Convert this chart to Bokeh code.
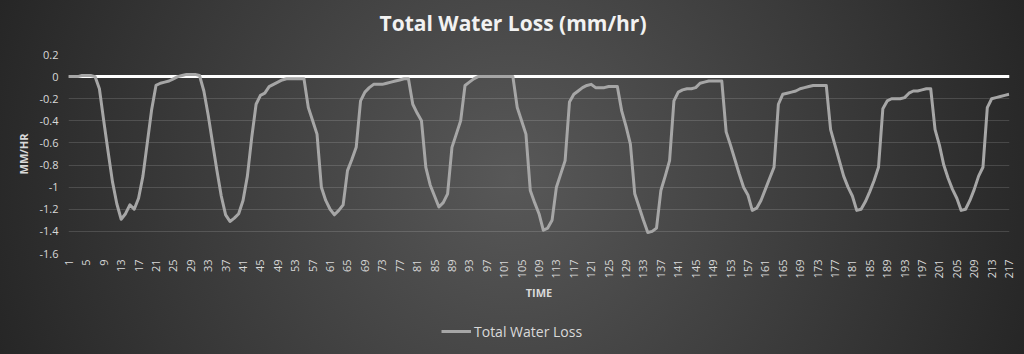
from math import pi
from bokeh.plotting import figure
from bokeh.layouts import column
from bokeh.models import (Range1d, FixedTicker, CustomJSTickFormatter, Span,
                          Legend, LegendItem, Title)
from bokeh.embed import file_html
from bokeh.resources import INLINE

# ---- data ----
time_steps = list(range(1, 218))
x_tick_values = list(range(1, 218, 4))
y_tick_values = [0.2, 0.0, -0.2, -0.4, -0.6, -0.8, -1.0, -1.2, -1.4, -1.6]

water_loss = [
    0, 0, 0, 0.01, 0.01, 0.01, 0, -0.11, -0.4, -0.68,
    -0.95, -1.15, -1.29, -1.24, -1.16, -1.2, -1.1, -0.9, -0.6, -0.3,
    -0.08, -0.06, -0.05, -0.04, -0.02, 0, 0.01, 0.02, 0.02, 0.02,
    0.01, -0.13, -0.35, -0.6, -0.85, -1.08, -1.25, -1.31, -1.28, -1.24,
    -1.12, -0.9, -0.55, -0.25, -0.17, -0.15, -0.09, -0.07, -0.05, -0.03,
    -0.02, -0.02, -0.02, -0.02, -0.02, -0.28, -0.4, -0.52, -1.0, -1.12,
    -1.2, -1.25, -1.21, -1.16, -0.85, -0.75, -0.64, -0.22, -0.14, -0.1,
    -0.07, -0.07, -0.07, -0.06, -0.05, -0.04, -0.03, -0.02, -0.02, -0.25,
    -0.33, -0.4, -0.82, -0.98, -1.08, -1.18, -1.14, -1.06, -0.64, -0.52,
    -0.4, -0.08, -0.05, -0.02, 0, 0, 0, 0, 0, 0,
    0, 0, 0, -0.28, -0.4, -0.52, -1.03, -1.14, -1.24, -1.39,
    -1.37, -1.3, -1.0, -0.88, -0.76, -0.23, -0.16, -0.13, -0.1, -0.08,
    -0.07, -0.1, -0.1, -0.1, -0.09, -0.09, -0.09, -0.31, -0.45, -0.61,
    -1.06, -1.18, -1.3, -1.41, -1.4, -1.37, -1.03, -0.9, -0.76, -0.22,
    -0.14, -0.12, -0.11, -0.11, -0.1, -0.06, -0.05, -0.04, -0.04, -0.04,
    -0.04, -0.5, -0.62, -0.75, -0.88, -1.0, -1.07, -1.21, -1.19, -1.12,
    -1.02, -0.92, -0.82, -0.25, -0.16, -0.15, -0.14, -0.13, -0.11, -0.1,
    -0.09, -0.08, -0.08, -0.08, -0.08, -0.48, -0.62, -0.76, -0.9, -1.0,
    -1.08, -1.21, -1.2, -1.13, -1.04, -0.94, -0.82, -0.29, -0.22, -0.2,
    -0.2, -0.2, -0.19, -0.15, -0.13, -0.13, -0.12, -0.11, -0.11, -0.48,
    -0.62, -0.8, -0.92, -1.02, -1.1, -1.21, -1.2, -1.12, -1.02, -0.9,
    -0.82, -0.28, -0.2, -0.19, -0.18, -0.17, -0.16,
]

title_text = "Total Water Loss (mm/hr)"
x_label = "TIME"
y_label = "MM/HR"
series_name = "Total Water Loss"

FONT = "Open Sans"
TEXT_COL = "#d9d9d9"
LINE_COL = "#a6a6a6"


def blank_strip(height):
    f = figure(width=1024, height=height, output_backend="svg",
               toolbar_location=None, x_range=Range1d(0, 1),
               y_range=Range1d(0, 1), min_border=0)
    f.background_fill_alpha = 0
    f.border_fill_alpha = 0
    f.outline_line_color = None
    f.axis.visible = False
    f.grid.visible = False
    return f


# ---------------- title strip ----------------
top = blank_strip(44)
top.title = Title(text=title_text, align="left", offset=311, text_font=FONT,
                  text_font_size="21px", text_font_style="bold",
                  text_color="#f2f2f2", standoff=13, vertical_align="bottom")

# ---------------- main chart ----------------
p = figure(width=1024, height=266, output_backend="svg", toolbar_location=None,
           x_range=Range1d(0.9, 217.1), y_range=Range1d(-1.6, 0.2),
           min_border_left=68, min_border_right=15, min_border_top=10,
           min_border_bottom=57)

p.background_fill_alpha = 0
p.border_fill_alpha = 0
p.outline_line_color = None

main_x = p.xaxis[0]
main_y = p.yaxis[0]

p.xgrid.visible = False
p.ygrid.ticker = FixedTicker(ticks=y_tick_values)
p.ygrid.grid_line_color = "white"
p.ygrid.grid_line_alpha = 0.14
p.ygrid.grid_line_width = 1

main_y.ticker = FixedTicker(ticks=y_tick_values)
main_y.formatter = CustomJSTickFormatter(
    code="return Number(tick.toFixed(1)).toString();")
main_x.ticker = FixedTicker(ticks=x_tick_values)
for ax in (main_x, main_y):
    ax.axis_line_color = None
    ax.major_tick_line_color = None
    ax.minor_tick_line_color = None
    ax.major_tick_out = 0
    ax.major_tick_in = 0
    ax.major_label_text_font = FONT
    ax.major_label_text_font_size = "11px"
    ax.major_label_text_color = TEXT_COL
    ax.axis_label_text_font = FONT
    ax.axis_label_text_font_size = "11px"
    ax.axis_label_text_font_style = "bold"
    ax.axis_label_text_color = TEXT_COL

main_y.axis_label = y_label
main_y.major_label_standoff = 10
main_y.axis_label_standoff = 5
main_x.axis_label = x_label
main_x.major_label_orientation = pi / 2
main_x.major_label_standoff = 6
main_x.axis_label_standoff = 4

zero = Span(location=0, dimension="width", line_color="white", line_width=3,
            level="underlay")
p.add_layout(zero)

r = p.line(time_steps, water_loss, line_color=LINE_COL, line_width=3,
           line_join="round")

# ---------------- legend strip ----------------
leg = figure(width=1024, height=44, output_backend="svg", toolbar_location=None,
             x_range=Range1d(-20, -19), y_range=Range1d(0, 1), min_border=0)
leg.background_fill_alpha = 0
leg.border_fill_alpha = 0
leg.outline_line_color = None
leg.axis.visible = False
leg.grid.visible = False
# same series, outside this strip's visible range: used only as legend key
r2 = leg.line(time_steps, water_loss, line_color=LINE_COL, line_width=3)

legend = Legend(items=[LegendItem(label=series_name, renderers=[r2])],
                location=(373, 13), orientation="horizontal",
                background_fill_alpha=0, border_line_color=None,
                padding=0, margin=0, spacing=0, glyph_width=30, glyph_height=20,
                label_height=20, label_standoff=3,
                label_text_font=FONT, label_text_font_size="14px",
                label_text_color=TEXT_COL)
leg.add_layout(legend, "center")

layout = column(top, p, leg, spacing=0)
layout.styles = {"background": "radial-gradient(circle farthest-corner at 50% 50%, #585858 0%, #262626 100%)"}

open("out.html", "w").write(file_html(layout, INLINE))
